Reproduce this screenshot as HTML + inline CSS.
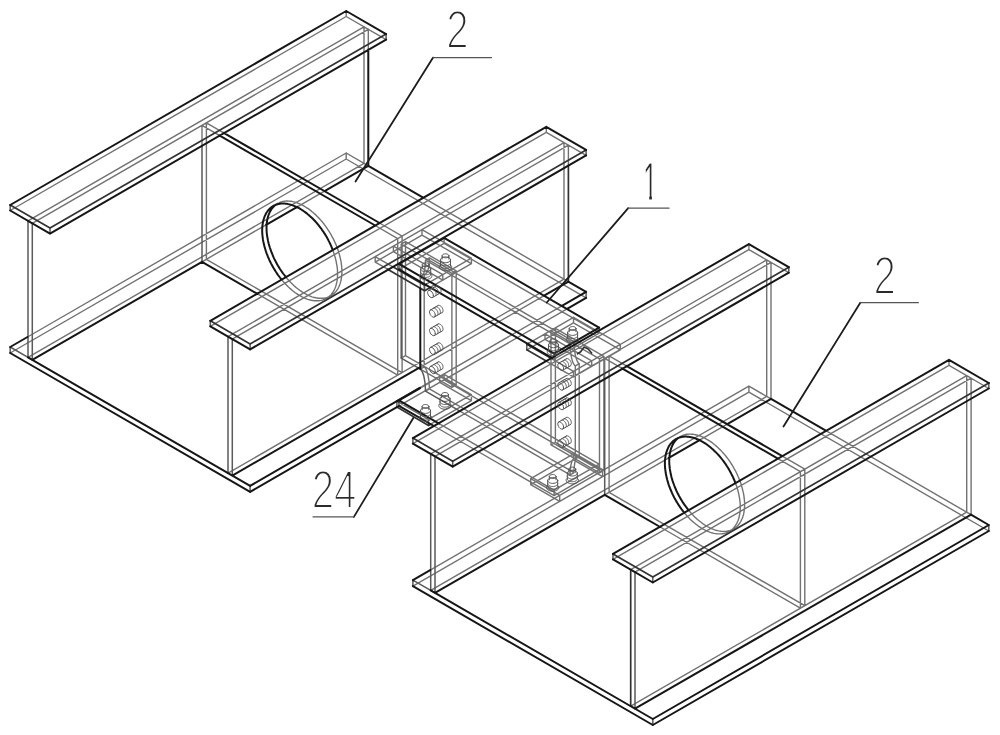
<!DOCTYPE html>
<html><head><meta charset="utf-8"><title>Figure</title>
<style>
html,body{margin:0;padding:0;background:#fff;}
body{width:1000px;height:735px;overflow:hidden;font-family:"Liberation Sans",sans-serif;}
svg{display:block}
.h{fill:none;stroke:#727272;stroke-width:1.4;stroke-linecap:round;stroke-linejoin:round}
.m{fill:none;stroke:#5a5a5a;stroke-width:1.5;stroke-linecap:round;stroke-linejoin:round}
.n{fill:none;stroke:#333;stroke-width:1.7;stroke-linecap:round;stroke-linejoin:round}
.v{fill:none;stroke:#161616;stroke-width:2;stroke-linecap:round;stroke-linejoin:round}
.b{fill:none;stroke:#555;stroke-width:1;stroke-linecap:round;stroke-linejoin:round}
.ld{fill:none;stroke:#1c1c1c;stroke-width:1.8;stroke-linecap:round}
.lh{fill:none;stroke:#555;stroke-width:1.3;stroke-linecap:round}
.lb{font-family:"Liberation Sans",sans-serif;font-size:54.5px;fill:#2a2a2a;stroke:#fff;stroke-width:2.2px}
.l1{stroke-width:0.9px}
</style></head><body>
<svg width="1000" height="735" viewBox="0 0 1000 735">
<rect width="1000" height="735" fill="#fff"/>
<path class="h" d="M10.2 353.0 L346.2 159.0 M27.5 337.0 L346.2 153.0 M397.3 406.9 L567.1 308.9 M419.8 387.9 L561.9 305.9 M346.2 159.0 L586.1 297.9 M346.2 153.0 L368.8 166.1 M422.7 197.3 L568.7 281.8 M346.2 159.0 L346.2 153.0 M10.2 210.5 L346.2 16.5 M346.2 16.5 L386.1 39.6 M346.2 16.5 L346.2 11.0 M28.0 357.3 L364.0 163.3 M28.0 220.8 L364.0 26.8 M202.0 261.8 L266.1 224.8 M297.3 206.8 L325.0 190.8 M32.3 223.3 L368.3 29.3 M364.0 163.3 L368.3 165.8 M364.0 26.8 L368.3 29.3 M364.0 163.3 L364.0 26.8 M368.3 49.4 L368.3 29.3 M210.3 326.3 L546.3 132.3 M546.3 132.3 L586.1 155.4 M546.3 132.3 L546.3 126.8 M228.0 473.1 L564.0 279.1 M228.0 336.6 L564.0 142.6 M419.4 367.6 L544.1 295.6 M232.3 339.1 L568.4 145.1 M564.0 279.1 L568.4 281.6 M564.0 142.6 L568.4 145.1 M564.0 279.1 L564.0 142.6 M568.4 165.2 L568.4 145.1 M202.0 261.8 L206.4 259.3 M202.0 125.3 L206.4 122.8 M397.7 375.1 L402.1 372.6 M397.7 238.6 L402.1 236.1 M257.5 293.9 L397.7 375.1 M202.0 125.3 L219.3 135.3 M375.2 225.5 L397.7 238.6 M206.4 259.3 L402.1 372.6 M206.4 122.8 L223.7 132.8 M379.6 223.0 L402.1 236.1 M202.0 145.4 L202.0 125.3 M397.7 375.1 L397.7 238.6 M206.4 259.3 L206.4 122.8 M402.1 372.6 L402.1 236.1 M337.6 274.0 L337.5 272.5 L337.5 270.9 L337.4 269.3 L337.2 267.7 L337.0 266.1 L336.7 264.5 L336.4 262.8 L336.1 261.2 L335.7 259.5 L335.3 257.8 L334.8 256.1 L334.3 254.4 L333.7 252.7 L333.1 251.0 L332.5 249.3 M281.0 278.9 L282.2 280.4 L283.4 281.7 L284.6 283.0 L285.8 284.3 L287.0 285.6 L288.2 286.8 L289.5 288.0 L290.8 289.1 L292.1 290.2 L293.3 291.2 L294.6 292.2 L295.9 293.2 L297.3 294.1 L298.6 294.9 L299.9 295.7 L301.2 296.4 L302.5 297.1 L303.8 297.7 L305.1 298.3 L306.4 298.8 L307.7 299.3 L309.0 299.7 L310.3 300.0 L311.5 300.3 L312.8 300.5 L314.0 300.7 L315.2 300.8 L316.4 300.8 L317.6 300.8 L318.7 300.8 L319.8 300.6 L321.0 300.4 L322.0 300.2 L323.1 299.9 L324.1 299.5 L325.1 299.1 L326.1 298.6 L327.0 298.1 L327.9 297.5 L328.7 296.8 L329.6 296.1 L330.4 295.4 L331.1 294.6 L331.8 293.7 L332.5 292.8 L333.1 291.9 L333.7 290.8 L334.3 289.8 L334.8 288.7 L335.3 287.5 L335.7 286.4 L336.1 285.1 L336.4 283.9 L336.7 282.6 L337.0 281.2 L337.2 279.8 L337.4 278.4 L337.5 277.0 L337.5 275.5 L337.6 274.0 M341.9 271.5 L341.9 270.0 L341.8 268.4 L341.7 266.8 L341.5 265.2 L341.3 263.6 L341.1 262.0 L340.8 260.3 L340.4 258.7 L340.0 257.0 L339.6 255.3 L339.1 253.6 L338.6 251.9 L338.1 250.2 L337.5 248.5 L336.8 246.8 L336.2 245.1 L335.4 243.4 L334.7 241.8 L333.9 240.1 L333.1 238.4 L332.2 236.8 L331.3 235.1 L330.4 233.5 L329.4 231.9 L328.4 230.4 L327.4 228.8 L326.4 227.3 L325.3 225.8 L324.2 224.3 L323.1 222.9 L321.9 221.5 L320.7 220.1 L319.5 218.8 L318.3 217.5 L317.1 216.3 L315.9 215.0 L314.6 213.9 L313.3 212.7 L312.0 211.7 L310.8 210.6 L309.5 209.6 L308.2 208.7 L306.8 207.8 L305.5 207.0 L304.2 206.2 L302.9 205.4 L301.6 204.8 L300.3 204.1 L299.0 203.6 L297.7 203.1 L296.4 202.6 L295.1 202.2 L293.8 201.9 L292.6 201.6 L291.3 201.3 L290.1 201.2 L288.9 201.1 L287.7 201.0 L286.5 201.0 L285.4 201.1 L284.3 201.2 L283.1 201.4 L282.1 201.7 L281.0 202.0 L280.0 202.3 L279.0 202.8 L278.0 203.2 L277.1 203.8 L276.2 204.4 L275.4 205.0 M285.4 276.4 L286.5 277.9 L287.7 279.2 L288.9 280.5 L290.1 281.8 L291.3 283.1 L292.6 284.3 L293.8 285.5 L295.1 286.6 L296.4 287.7 L297.7 288.7 L299.0 289.7 L300.3 290.7 L301.6 291.6 L302.9 292.4 L304.2 293.2 L305.5 293.9 L306.8 294.6 L308.2 295.2 L309.5 295.8 L310.8 296.3 L312.0 296.8 L313.3 297.2 L314.6 297.5 L315.9 297.8 L317.1 298.0 L318.3 298.2 L319.5 298.3 L320.7 298.3 L321.9 298.3 L323.1 298.3 L324.2 298.1 L325.3 297.9 L326.4 297.7 L327.4 297.4 L328.4 297.0 L329.4 296.6 L330.4 296.1 L331.3 295.6 L332.2 295.0 L333.1 294.3 L333.9 293.6 L334.7 292.9 L335.4 292.1 L336.2 291.2 L336.8 290.3 L337.5 289.4 L338.1 288.3 L338.6 287.3 L339.1 286.2 L339.6 285.0 L340.0 283.9 L340.4 282.6 L340.8 281.4 L341.1 280.1 L341.3 278.7 L341.5 277.3 L341.7 275.9 L341.8 274.5 L341.9 273.0 L341.9 271.5 M412.9 586.1 L748.9 392.1 M430.2 570.1 L748.9 386.1 M748.9 392.1 L988.8 531.0 M748.9 386.1 L771.5 399.2 M825.4 430.4 L971.4 514.9 M748.9 392.1 L748.9 386.1 M412.9 443.6 L748.9 249.6 M748.9 249.6 L788.8 272.7 M748.9 249.6 L748.9 244.1 M430.7 590.4 L766.7 396.4 M430.7 453.9 L766.7 259.9 M604.7 494.9 L668.8 457.9 M700.0 439.9 L727.7 423.9 M435.0 456.4 L771.0 262.4 M766.7 396.4 L771.0 398.9 M766.7 259.9 L771.0 262.4 M766.7 396.4 L766.7 259.9 M771.0 398.9 L771.0 282.5 M771.0 282.5 L771.0 262.4 M613.0 559.4 L949.0 365.4 M949.0 365.4 L988.8 388.5 M949.0 365.4 L949.0 359.9 M630.7 706.2 L966.7 512.2 M630.7 569.7 L966.7 375.7 M635.0 572.2 L971.1 378.2 M966.7 512.2 L971.1 514.7 M966.7 375.7 L971.1 378.2 M966.7 512.2 L966.7 375.7 M971.1 514.7 L971.1 398.3 M971.1 398.3 L971.1 378.2 M604.7 494.9 L609.1 492.4 M604.7 358.4 L609.1 355.9 M800.4 608.2 L804.8 605.7 M800.4 471.7 L804.8 469.2 M660.2 527.0 L800.4 608.2 M604.7 358.4 L622.0 368.4 M777.9 458.6 L800.4 471.7 M609.1 492.4 L804.8 605.7 M609.1 355.9 L626.4 365.9 M782.3 456.1 L804.8 469.2 M604.7 378.5 L604.7 358.4 M800.4 608.2 L800.4 471.7 M609.1 492.4 L609.1 355.9 M804.8 605.7 L804.8 469.2 M740.3 507.1 L740.2 505.6 L740.2 504.0 L740.1 502.4 L739.9 500.8 L739.7 499.2 L739.4 497.6 L739.1 495.9 L738.8 494.3 L738.4 492.6 L738.0 490.9 L737.5 489.2 L737.0 487.5 L736.4 485.8 L735.8 484.1 L735.2 482.4 M683.8 512.1 L684.9 513.5 L686.1 514.8 L687.3 516.2 L688.5 517.4 L689.7 518.7 L690.9 519.9 L692.2 521.1 L693.5 522.2 L694.8 523.3 L696.0 524.3 L697.3 525.3 L698.6 526.3 L700.0 527.2 L701.3 528.0 L702.6 528.8 L703.9 529.5 L705.2 530.2 L706.5 530.8 L707.8 531.4 L709.1 531.9 L710.4 532.4 L711.7 532.8 L713.0 533.1 L714.2 533.4 L715.5 533.6 L716.7 533.8 L717.9 533.9 L719.1 533.9 L720.3 533.9 L721.4 533.9 L722.6 533.7 L723.7 533.5 L724.7 533.3 L725.8 533.0 L726.8 532.6 L727.8 532.2 L728.8 531.7 L729.7 531.2 L730.6 530.6 L731.4 530.0 L732.3 529.2 L733.1 528.5 L733.8 527.7 L734.5 526.8 L735.2 525.9 L735.8 525.0 L736.4 524.0 L737.0 522.9 L737.5 521.8 L738.0 520.7 L738.4 519.5 L738.8 518.2 L739.1 517.0 L739.4 515.7 L739.7 514.3 L739.9 512.9 L740.1 511.5 L740.2 510.1 L740.2 508.6 L740.3 507.1 M744.6 504.6 L744.6 503.1 L744.5 501.5 L744.4 499.9 L744.2 498.3 L744.0 496.7 L743.8 495.1 L743.5 493.4 L743.1 491.8 L742.7 490.1 L742.3 488.4 L741.8 486.7 L741.3 485.0 L740.8 483.3 L740.2 481.6 L739.5 479.9 L738.9 478.2 L738.1 476.5 L737.4 474.9 L736.6 473.2 L735.8 471.5 L734.9 469.9 L734.0 468.3 L733.1 466.6 L732.1 465.0 L731.1 463.5 L730.1 461.9 L729.1 460.4 L728.0 458.9 L726.9 457.5 L725.8 456.0 L724.6 454.6 L723.4 453.2 L722.2 451.9 L721.0 450.6 L719.8 449.4 L718.6 448.2 L717.3 447.0 L716.0 445.9 L714.7 444.8 L713.5 443.7 L712.2 442.7 L710.9 441.8 L709.5 440.9 L708.2 440.1 L706.9 439.3 L705.6 438.6 L704.3 437.9 L703.0 437.2 L701.7 436.7 L700.4 436.2 L699.1 435.7 L697.8 435.3 L696.5 435.0 L695.3 434.7 L694.0 434.4 L692.8 434.3 L691.6 434.2 L690.4 434.1 L689.2 434.1 L688.1 434.2 L687.0 434.3 L685.9 434.5 L684.8 434.8 L683.7 435.1 L682.7 435.4 L681.7 435.9 L680.7 436.3 L679.8 436.9 L678.9 437.5 L678.1 438.1 M688.1 509.6 L689.2 511.0 L690.4 512.3 L691.6 513.7 L692.8 514.9 L694.0 516.2 L695.3 517.4 L696.5 518.6 L697.8 519.7 L699.1 520.8 L700.4 521.8 L701.7 522.8 L703.0 523.8 L704.3 524.7 L705.6 525.5 L706.9 526.3 L708.2 527.0 L709.5 527.7 L710.9 528.3 L712.2 528.9 L713.5 529.4 L714.7 529.9 L716.0 530.3 L717.3 530.6 L718.6 530.9 L719.8 531.1 L721.0 531.3 L722.2 531.4 L723.4 531.4 L724.6 531.4 L725.8 531.4 L726.9 531.2 L728.0 531.0 L729.1 530.8 L730.1 530.5 L731.1 530.1 L732.1 529.7 L733.1 529.2 L734.0 528.7 L734.9 528.1 L735.8 527.5 L736.6 526.7 L737.4 526.0 L738.1 525.2 L738.9 524.3 L739.5 523.4 L740.2 522.5 L740.8 521.5 L741.3 520.4 L741.8 519.3 L742.3 518.2 L742.7 517.0 L743.1 515.7 L743.5 514.5 L743.8 513.2 L744.0 511.8 L744.2 510.4 L744.4 509.0 L744.5 507.6 L744.6 506.1 L744.6 504.6 M399.0 269.4 L444.1 243.4 M554.1 359.1 L599.1 333.1 M552.3 358.1 L554.1 359.1 M444.1 243.4 L599.1 333.1 M554.1 359.1 L554.1 356.4 M444.1 243.4 L444.1 237.9 M599.1 333.1 L599.1 330.4 M399.0 405.9 L444.1 379.9 M419.8 388.4 L444.1 374.4 M554.1 495.6 L599.1 469.6 M554.1 490.1 L599.1 464.1 M433.9 426.0 L554.1 495.6 M439.1 423.6 L554.1 490.1 M444.1 379.9 L599.1 469.6 M444.1 374.4 L599.1 464.1 M554.1 495.6 L554.1 490.1 M444.1 379.9 L444.1 374.4 M599.1 469.6 L599.1 464.1 M425.5 260.1 L570.1 343.8 M460.3 411.3 L570.1 474.8 M420.3 288.2 L420.3 276.1 M575.3 458.9 L575.3 365.9 M425.5 260.1 L425.4 262.8 L425.2 265.4 L425.0 267.7 L424.6 269.9 L424.2 271.8 L423.7 273.4 L423.1 274.7 L422.4 275.7 L421.7 276.2 L421.0 276.4 L420.3 276.1 M570.1 343.8 L570.1 346.6 L570.3 349.3 L570.6 352.0 L570.9 354.6 L571.4 357.0 L571.9 359.2 L572.5 361.2 L573.1 362.9 L573.8 364.2 L574.5 365.2 L575.3 365.9 M570.1 474.8 L570.1 472.2 L570.3 469.6 L570.6 467.2 L570.9 465.0 L571.4 463.1 L571.9 461.5 L572.5 460.2 L573.1 459.3 L573.8 458.8 L574.5 458.6 L575.3 458.9 M429.4 257.9 L574.0 341.6 M429.4 388.9 L574.0 472.6 M424.2 366.9 L424.2 273.9 M579.2 456.6 L579.2 363.6 M429.4 257.9 L429.3 260.5 L429.1 263.1 L428.9 265.5 L428.5 267.7 L428.1 269.6 L427.6 271.2 L427.0 272.5 L426.3 273.4 L425.6 273.9 L424.9 274.1 L424.2 273.9 M429.4 388.9 L429.3 386.1 L429.1 383.4 L428.9 380.7 L428.5 378.1 L428.1 375.7 L427.6 373.5 L427.0 371.5 L426.3 369.8 L425.6 368.5 L424.9 367.5 L424.2 366.9 M574.0 341.6 L574.0 344.3 L574.2 347.1 L574.5 349.8 L574.8 352.3 L575.3 354.8 L575.8 357.0 L576.4 359.0 L577.0 360.6 L577.7 362.0 L578.4 363.0 L579.2 363.6 M574.0 472.6 L574.0 469.9 L574.2 467.4 L574.5 465.0 L574.8 462.8 L575.3 460.9 L575.8 459.3 L576.4 458.0 L577.0 457.1 L577.7 456.5 L578.4 456.4 L579.2 456.6 M425.5 260.1 L429.4 257.9 M420.3 276.1 L424.2 273.9 M425.5 391.1 L429.4 388.9 M420.3 369.1 L424.2 366.9 M570.1 343.8 L574.0 341.6 M575.3 365.9 L579.2 363.6 M570.1 474.8 L574.0 472.6 M575.3 458.9 L579.2 456.6 M401.2 358.1 L405.5 355.6 M401.2 244.1 L405.5 241.6 M451.9 387.4 L456.2 384.9 M451.9 273.4 L456.2 270.9 M420.4 369.2 L451.9 387.4 M401.2 244.1 L451.9 273.4 M405.5 355.6 L456.2 384.9 M405.5 241.6 L456.2 270.9 M401.2 276.1 L401.2 244.1 M451.9 387.4 L451.9 273.4 M405.5 355.6 L405.5 241.6 M456.2 384.9 L456.2 270.9 M551.0 444.8 L555.4 442.3 M551.0 330.8 L555.4 328.3 M599.5 472.9 L603.9 470.4 M599.5 358.9 L603.9 356.4 M551.0 444.8 L599.5 472.9 M551.0 330.8 L599.5 358.9 M555.4 442.3 L603.9 470.4 M555.4 328.3 L603.9 356.4 M551.0 444.8 L551.0 330.8 M599.5 472.9 L599.5 358.9 M555.4 442.3 L555.4 328.3 M603.9 470.4 L603.9 356.4 M396.9 407.1 L439.7 382.4 M420.1 387.7 L439.7 376.4 M430.3 424.4 L471.4 400.7 M428.5 419.4 L471.4 394.7 M398.6 402.1 L428.5 419.4 M439.7 382.4 L471.4 400.7 M439.7 376.4 L471.4 394.7 M428.5 423.4 L428.5 419.4 M439.7 382.4 L439.7 376.4 M471.4 400.7 L471.4 394.7 M530.7 484.6 L573.5 459.8 M530.7 478.6 L573.5 453.8 M559.7 501.4 L602.6 476.6 M559.7 495.4 L602.6 470.6 M530.7 484.6 L559.7 501.4 M530.7 478.6 L559.7 495.4 M573.5 459.8 L602.6 476.6 M573.5 453.8 L602.6 470.6 M530.7 484.6 L530.7 478.6 M559.7 501.4 L559.7 495.4 M573.5 459.8 L573.5 453.8 M602.6 476.6 L602.6 470.6 M375.2 262.1 L422.0 235.1 M375.2 256.6 L422.0 229.6 M429.8 287.7 L471.4 263.7 M426.3 284.2 L471.4 258.2 M375.2 262.1 L387.6 269.2 M375.2 256.6 L392.9 266.8 M422.0 235.1 L471.4 263.7 M422.0 229.6 L471.4 258.2 M375.2 262.1 L375.2 256.6 M422.0 235.1 L422.0 229.6 M471.4 263.7 L471.4 258.2 M526.8 349.8 L573.5 322.8 M528.5 343.3 L573.5 317.3 M573.5 376.9 L620.3 349.9 M573.5 371.4 L620.3 344.4 M545.8 360.8 L573.5 376.9 M551.0 358.3 L573.5 371.4 M573.5 322.8 L620.3 349.9 M573.5 317.3 L620.3 344.4 M573.5 376.9 L573.5 371.4 M573.5 322.8 L573.5 317.3 M620.3 349.9 L620.3 344.4 M393.4 251.6 L422.0 235.1 M393.4 246.1 L422.0 229.6 M442.8 280.2 L471.4 263.7 M442.8 274.7 L471.4 258.2 M393.4 251.6 L442.8 280.2 M393.4 246.1 L442.8 274.7 M393.4 251.6 L393.4 246.1 M442.8 280.2 L442.8 274.7 M545.0 339.3 L573.5 322.8 M545.0 333.8 L573.5 317.3 M591.7 366.4 L620.3 349.9 M591.7 360.9 L620.3 344.4 M545.0 339.3 L591.7 366.4 M545.0 333.8 L591.7 360.9 M545.0 339.3 L545.0 333.8 M591.7 366.4 L591.7 360.9"/>
<path class="m" d="M10.2 347.0 L32.3 359.8 M10.2 353.0 L10.2 347.0 M250.1 491.9 L250.1 485.9 M586.1 297.9 L586.1 291.9 M10.2 210.5 L10.2 205.0 M50.0 233.6 L50.0 228.1 M386.1 39.6 L386.1 34.1 M28.0 357.3 L28.0 220.8 M32.3 359.8 L32.3 223.3 M210.3 326.3 L210.3 320.8 M250.1 349.4 L250.1 343.9 M586.1 155.4 L586.1 149.9 M228.0 473.1 L228.0 336.6 M232.3 475.6 L232.3 339.1 M202.0 261.8 L202.0 145.4 M412.9 580.1 L435.0 592.9 M412.9 586.1 L412.9 580.1 M652.8 725.0 L652.8 719.0 M988.8 531.0 L988.8 525.0 M412.9 443.6 L412.9 438.1 M452.7 466.7 L452.7 461.2 M788.8 272.7 L788.8 267.2 M430.7 590.4 L430.7 453.9 M435.0 592.9 L435.0 456.4 M613.0 559.4 L613.0 553.9 M652.8 582.5 L652.8 577.0 M988.8 388.5 L988.8 383.0 M635.0 708.7 L635.0 572.2 M604.7 494.9 L604.7 378.5 M399.0 269.4 L399.0 263.9 M554.1 356.4 L554.1 353.6 M599.1 330.4 L599.1 327.6 M399.0 405.9 L399.0 400.4 M425.5 391.1 L460.3 411.3 M425.5 391.1 L425.4 388.4 L425.2 385.7 L425.0 383.0 L424.6 380.4 L424.2 377.9 L423.7 375.7 L423.1 373.8 L422.4 372.1 L421.7 370.7 L421.0 369.7 L420.3 369.1 M401.2 358.1 L420.4 369.2 M401.2 358.1 L401.2 276.1 M396.9 407.1 L396.9 401.1 M428.5 425.4 L428.5 423.4 M424.6 290.7 L424.6 285.2 M526.8 349.8 L526.8 344.3"/>
<path class="n" d="M50.0 228.1 L386.1 34.1 M10.2 205.0 L50.0 228.1 M250.1 343.9 L586.1 149.9 M210.3 320.8 L250.1 343.9 M568.4 281.6 L568.4 165.2 M452.7 461.2 L788.8 267.2 M412.9 438.1 L452.7 461.2 M652.8 577.0 L988.8 383.0 M613.0 553.9 L652.8 577.0 M630.7 706.2 L630.7 569.7 M396.9 401.1 L420.1 387.7 M428.5 425.4 L430.3 424.4 M396.9 407.1 L428.5 425.4 M396.9 401.1 L398.6 402.1 M424.6 290.7 L429.8 287.7 M424.6 285.2 L426.3 284.2 M387.6 269.2 L424.6 290.7 M392.9 266.8 L424.6 285.2 M526.8 344.3 L528.5 343.3 M526.8 349.8 L545.8 360.8 M526.8 344.3 L551.0 358.3"/>
<path class="v" d="M10.2 347.0 L27.5 337.0 M250.1 491.9 L397.3 406.9 M567.1 308.9 L586.1 297.9 M250.1 485.9 L419.8 387.9 M561.9 305.9 L586.1 291.9 M10.2 353.0 L250.1 491.9 M32.3 359.8 L250.1 485.9 M368.8 166.1 L422.7 197.3 M568.7 281.8 L586.1 291.9 M10.2 205.0 L346.2 11.0 M50.0 233.6 L386.1 39.6 M10.2 210.5 L50.0 233.6 M346.2 11.0 L386.1 34.1 M32.3 359.8 L202.0 261.8 M266.1 224.8 L297.3 206.8 M325.0 190.8 L368.3 165.8 M28.0 357.3 L32.3 359.8 M28.0 220.8 L32.3 223.3 M368.3 165.8 L368.3 49.4 M210.3 320.8 L546.3 126.8 M250.1 349.4 L586.1 155.4 M210.3 326.3 L250.1 349.4 M546.3 126.8 L586.1 149.9 M232.3 475.6 L419.4 367.6 M544.1 295.6 L568.4 281.6 M228.0 473.1 L232.3 475.6 M228.0 336.6 L232.3 339.1 M202.0 261.8 L257.5 293.9 M219.3 135.3 L375.2 225.5 M223.7 132.8 L379.6 223.0 M332.5 249.3 L331.8 247.6 L331.1 245.9 L330.4 244.3 L329.6 242.6 L328.7 240.9 L327.9 239.3 L327.0 237.6 L326.1 236.0 L325.1 234.4 L324.1 232.9 L323.1 231.3 L322.0 229.8 L321.0 228.3 L319.8 226.8 L318.7 225.4 L317.6 224.0 L316.4 222.6 L315.2 221.3 L314.0 220.0 L312.8 218.8 L311.5 217.5 L310.3 216.4 L309.0 215.2 L307.7 214.2 L306.4 213.1 L305.1 212.1 L303.8 211.2 L302.5 210.3 L301.2 209.5 L299.9 208.7 L298.6 207.9 L297.3 207.3 L295.9 206.6 L294.6 206.1 L293.3 205.6 L292.1 205.1 L290.8 204.7 L289.5 204.4 L288.2 204.1 L287.0 203.8 L285.8 203.7 L284.6 203.6 L283.4 203.5 L282.2 203.5 L281.0 203.6 L279.9 203.7 L278.8 203.9 L277.7 204.2 L276.7 204.5 L275.7 204.8 L274.7 205.3 L273.7 205.7 L272.8 206.3 L271.9 206.9 L271.0 207.5 L270.2 208.2 L269.4 209.0 L268.7 209.8 L267.9 210.6 L267.3 211.5 L266.6 212.5 L266.0 213.5 L265.5 214.6 L265.0 215.7 L264.5 216.8 L264.1 218.0 L263.7 219.2 L263.3 220.5 L263.0 221.8 L262.8 223.2 L262.6 224.5 L262.4 225.9 L262.3 227.4 L262.2 228.9 L262.2 230.4 L262.2 231.9 L262.3 233.5 L262.4 235.0 L262.6 236.6 L262.8 238.3 L263.0 239.9 L263.3 241.5 L263.7 243.2 L264.1 244.9 L264.5 246.6 L265.0 248.3 L265.5 250.0 L266.0 251.6 L266.6 253.3 L267.3 255.0 L267.9 256.7 L268.7 258.4 L269.4 260.1 L270.2 261.8 L271.0 263.4 L271.9 265.1 L272.8 266.7 L273.7 268.3 L274.7 269.9 L275.7 271.5 L276.7 273.0 L277.7 274.6 L278.8 276.0 L279.9 277.5 L281.0 278.9 M275.4 205.0 L274.5 205.7 L273.7 206.5 L273.0 207.3 L272.3 208.1 L271.6 209.0 L271.0 210.0 L270.4 211.0 L269.8 212.1 L269.3 213.2 L268.8 214.3 L268.4 215.5 L268.0 216.7 L267.7 218.0 L267.4 219.3 L267.1 220.7 L266.9 222.0 L266.7 223.4 L266.6 224.9 L266.6 226.4 L266.5 227.9 L266.6 229.4 L266.6 231.0 L266.7 232.5 L266.9 234.1 L267.1 235.8 L267.4 237.4 L267.7 239.0 L268.0 240.7 L268.4 242.4 L268.8 244.1 L269.3 245.8 L269.8 247.5 L270.4 249.1 L271.0 250.8 L271.6 252.5 L272.3 254.2 L273.0 255.9 L273.7 257.6 L274.5 259.3 L275.4 260.9 L276.2 262.6 L277.1 264.2 L278.0 265.8 L279.0 267.4 L280.0 269.0 L281.0 270.5 L282.1 272.1 L283.1 273.5 L284.3 275.0 L285.4 276.4 M412.9 580.1 L430.2 570.1 M652.8 725.0 L988.8 531.0 M652.8 719.0 L988.8 525.0 M412.9 586.1 L652.8 725.0 M435.0 592.9 L652.8 719.0 M771.5 399.2 L825.4 430.4 M971.4 514.9 L988.8 525.0 M412.9 438.1 L748.9 244.1 M452.7 466.7 L788.8 272.7 M412.9 443.6 L452.7 466.7 M748.9 244.1 L788.8 267.2 M435.0 592.9 L604.7 494.9 M668.8 457.9 L700.0 439.9 M727.7 423.9 L771.0 398.9 M430.7 590.4 L435.0 592.9 M430.7 453.9 L435.0 456.4 M613.0 553.9 L949.0 359.9 M652.8 582.5 L988.8 388.5 M613.0 559.4 L652.8 582.5 M949.0 359.9 L988.8 383.0 M635.0 708.7 L971.1 514.7 M630.7 706.2 L635.0 708.7 M630.7 569.7 L635.0 572.2 M604.7 494.9 L660.2 527.0 M622.0 368.4 L777.9 458.6 M626.4 365.9 L782.3 456.1 M735.2 482.4 L734.5 480.7 L733.8 479.0 L733.1 477.4 L732.3 475.7 L731.4 474.0 L730.6 472.4 L729.7 470.8 L728.8 469.1 L727.8 467.5 L726.8 466.0 L725.8 464.4 L724.7 462.9 L723.7 461.4 L722.6 460.0 L721.4 458.5 L720.3 457.1 L719.1 455.7 L717.9 454.4 L716.7 453.1 L715.5 451.9 L714.2 450.7 L713.0 449.5 L711.7 448.4 L710.4 447.3 L709.1 446.2 L707.8 445.2 L706.5 444.3 L705.2 443.4 L703.9 442.6 L702.6 441.8 L701.3 441.1 L700.0 440.4 L698.6 439.7 L697.3 439.2 L696.0 438.7 L694.8 438.2 L693.5 437.8 L692.2 437.5 L690.9 437.2 L689.7 436.9 L688.5 436.8 L687.3 436.7 L686.1 436.6 L684.9 436.6 L683.8 436.7 L682.6 436.8 L681.5 437.0 L680.4 437.3 L679.4 437.6 L678.4 437.9 L677.4 438.4 L676.4 438.8 L675.5 439.4 L674.6 440.0 L673.7 440.6 L672.9 441.3 L672.1 442.1 L671.4 442.9 L670.6 443.7 L670.0 444.6 L669.3 445.6 L668.7 446.6 L668.2 447.7 L667.7 448.8 L667.2 449.9 L666.8 451.1 L666.4 452.3 L666.0 453.6 L665.7 454.9 L665.5 456.3 L665.3 457.6 L665.1 459.1 L665.0 460.5 L664.9 462.0 L664.9 463.5 L664.9 465.0 L665.0 466.6 L665.1 468.1 L665.3 469.7 L665.5 471.4 L665.7 473.0 L666.0 474.6 L666.4 476.3 L666.8 478.0 L667.2 479.7 L667.7 481.4 L668.2 483.1 L668.7 484.8 L669.3 486.5 L670.0 488.1 L670.6 489.8 L671.4 491.5 L672.1 493.2 L672.9 494.9 L673.7 496.5 L674.6 498.2 L675.5 499.8 L676.4 501.4 L677.4 503.0 L678.4 504.6 L679.4 506.1 L680.4 507.7 L681.5 509.2 L682.6 510.6 L683.8 512.1 M678.1 438.1 L677.2 438.8 L676.4 439.6 L675.7 440.4 L675.0 441.2 L674.3 442.1 L673.7 443.1 L673.1 444.1 L672.5 445.2 L672.0 446.3 L671.5 447.4 L671.1 448.6 L670.7 449.8 L670.4 451.1 L670.1 452.4 L669.8 453.8 L669.6 455.1 L669.5 456.6 L669.3 458.0 L669.3 459.5 L669.2 461.0 L669.3 462.5 L669.3 464.1 L669.5 465.6 L669.6 467.2 L669.8 468.9 L670.1 470.5 L670.4 472.1 L670.7 473.8 L671.1 475.5 L671.5 477.2 L672.0 478.9 L672.5 480.6 L673.1 482.3 L673.7 484.0 L674.3 485.6 L675.0 487.3 L675.7 489.0 L676.4 490.7 L677.2 492.4 L678.1 494.0 L678.9 495.7 L679.8 497.3 L680.7 498.9 L681.7 500.5 L682.7 502.1 L683.7 503.6 L684.8 505.2 L685.9 506.7 L687.0 508.1 L688.1 509.6 M399.0 263.9 L444.1 237.9 M554.1 353.6 L599.1 327.6 M399.0 269.4 L552.3 358.1 M399.0 263.9 L554.1 353.6 M444.1 237.9 L599.1 327.6 M399.0 400.4 L419.8 388.4 M399.0 405.9 L433.9 426.0 M399.0 400.4 L439.1 423.6 M420.3 369.1 L420.3 288.2"/>
<path class="b" d="M433.3 295.6 L433.2 294.4 L432.7 293.1 L431.9 292.0 L431.0 291.0 L430.0 290.5 L429.0 290.3 L428.3 290.6 L427.8 291.3 L427.6 292.4 L427.8 293.6 L428.3 294.9 L429.0 296.0 L430.0 297.0 L431.0 297.5 L431.9 297.7 L432.7 297.4 L433.2 296.7 L433.3 295.6 M435.3 295.9 L435.6 295.6 L435.9 295.3 L436.0 294.8 L436.1 294.3 L436.1 293.7 L436.0 293.1 L435.9 292.5 L435.6 291.8 L435.3 291.2 L434.9 290.6 L434.5 290.1 L434.0 289.6 L433.5 289.2 L433.0 288.9 L432.5 288.8 L432.1 288.7 L431.6 288.7 L431.3 288.9 M437.7 294.5 L438.0 294.2 L438.3 293.9 L438.4 293.4 L438.5 292.9 L438.5 292.4 L438.4 291.7 L438.3 291.1 L438.0 290.5 L437.7 289.8 L437.3 289.2 L436.9 288.7 L436.4 288.2 L435.9 287.9 L435.4 287.6 L434.9 287.4 L434.5 287.3 L434.0 287.4 L433.6 287.5 M440.3 293.0 L440.6 292.7 L440.9 292.4 L441.0 291.9 L441.1 291.4 L441.1 290.9 L441.0 290.2 L440.9 289.6 L440.6 289.0 L440.3 288.3 L439.9 287.7 L439.5 287.2 L439.0 286.7 L438.5 286.4 L438.0 286.1 L437.5 285.9 L437.1 285.8 L436.6 285.9 L436.2 286.0 M428.4 290.5 L436.2 286.0 M432.5 297.5 L440.3 293.0 M435.2 315.1 L435.1 313.9 L434.6 312.6 L433.8 311.5 L432.9 310.5 L431.9 310.0 L430.9 309.8 L430.2 310.1 L429.7 310.8 L429.5 311.9 L429.7 313.1 L430.2 314.4 L430.9 315.5 L431.9 316.5 L432.9 317.0 L433.8 317.2 L434.6 316.9 L435.1 316.2 L435.2 315.1 M437.2 315.4 L437.5 315.1 L437.8 314.8 L437.9 314.3 L438.0 313.8 L438.0 313.2 L437.9 312.6 L437.8 312.0 L437.5 311.3 L437.2 310.7 L436.8 310.1 L436.4 309.6 L435.9 309.1 L435.4 308.7 L434.9 308.4 L434.4 308.3 L434.0 308.2 L433.5 308.2 L433.2 308.4 M439.6 314.0 L439.9 313.7 L440.2 313.4 L440.3 312.9 L440.4 312.4 L440.4 311.9 L440.3 311.2 L440.2 310.6 L439.9 310.0 L439.6 309.3 L439.2 308.7 L438.8 308.2 L438.3 307.7 L437.8 307.4 L437.3 307.1 L436.8 306.9 L436.4 306.8 L435.9 306.9 L435.5 307.0 M442.2 312.5 L442.5 312.2 L442.8 311.9 L442.9 311.4 L443.0 310.9 L443.0 310.4 L442.9 309.7 L442.8 309.1 L442.5 308.5 L442.2 307.8 L441.8 307.2 L441.4 306.7 L440.9 306.2 L440.4 305.9 L439.9 305.6 L439.4 305.4 L439.0 305.3 L438.5 305.4 L438.1 305.5 M430.3 310.0 L438.1 305.5 M434.4 317.0 L442.2 312.5 M435.2 333.6 L435.1 332.4 L434.6 331.1 L433.8 330.0 L432.9 329.0 L431.9 328.5 L430.9 328.3 L430.2 328.6 L429.7 329.3 L429.5 330.4 L429.7 331.6 L430.2 332.9 L430.9 334.0 L431.9 335.0 L432.9 335.5 L433.8 335.7 L434.6 335.4 L435.1 334.7 L435.2 333.6 M437.2 333.9 L437.5 333.6 L437.8 333.3 L437.9 332.8 L438.0 332.3 L438.0 331.7 L437.9 331.1 L437.8 330.5 L437.5 329.8 L437.2 329.2 L436.8 328.6 L436.4 328.1 L435.9 327.6 L435.4 327.2 L434.9 326.9 L434.4 326.8 L434.0 326.7 L433.5 326.7 L433.2 326.9 M439.6 332.5 L439.9 332.2 L440.2 331.9 L440.3 331.4 L440.4 330.9 L440.4 330.4 L440.3 329.7 L440.2 329.1 L439.9 328.5 L439.6 327.8 L439.2 327.2 L438.8 326.7 L438.3 326.2 L437.8 325.9 L437.3 325.6 L436.8 325.4 L436.4 325.3 L435.9 325.4 L435.5 325.5 M442.2 331.0 L442.5 330.7 L442.8 330.4 L442.9 329.9 L443.0 329.4 L443.0 328.9 L442.9 328.2 L442.8 327.6 L442.5 327.0 L442.2 326.3 L441.8 325.7 L441.4 325.2 L440.9 324.7 L440.4 324.4 L439.9 324.1 L439.4 323.9 L439.0 323.8 L438.5 323.9 L438.1 324.0 M430.3 328.5 L438.1 324.0 M434.4 335.5 L442.2 331.0 M435.2 352.6 L435.1 351.4 L434.6 350.1 L433.8 349.0 L432.9 348.0 L431.9 347.5 L430.9 347.3 L430.2 347.6 L429.7 348.3 L429.5 349.4 L429.7 350.6 L430.2 351.9 L430.9 353.0 L431.9 354.0 L432.9 354.5 L433.8 354.7 L434.6 354.4 L435.1 353.7 L435.2 352.6 M437.2 352.9 L437.5 352.6 L437.8 352.3 L437.9 351.8 L438.0 351.3 L438.0 350.7 L437.9 350.1 L437.8 349.5 L437.5 348.8 L437.2 348.2 L436.8 347.6 L436.4 347.1 L435.9 346.6 L435.4 346.2 L434.9 345.9 L434.4 345.8 L434.0 345.7 L433.5 345.7 L433.2 345.9 M439.6 351.5 L439.9 351.2 L440.2 350.9 L440.3 350.4 L440.4 349.9 L440.4 349.4 L440.3 348.7 L440.2 348.1 L439.9 347.5 L439.6 346.8 L439.2 346.2 L438.8 345.7 L438.3 345.2 L437.8 344.9 L437.3 344.6 L436.8 344.4 L436.4 344.3 L435.9 344.4 L435.5 344.5 M442.2 350.0 L442.5 349.7 L442.8 349.4 L442.9 348.9 L443.0 348.4 L443.0 347.9 L442.9 347.2 L442.8 346.6 L442.5 346.0 L442.2 345.3 L441.8 344.7 L441.4 344.2 L440.9 343.7 L440.4 343.4 L439.9 343.1 L439.4 342.9 L439.0 342.8 L438.5 342.9 L438.1 343.0 M430.3 347.5 L438.1 343.0 M434.4 354.5 L442.2 350.0 M435.2 371.6 L435.1 370.4 L434.6 369.1 L433.8 368.0 L432.9 367.0 L431.9 366.5 L430.9 366.3 L430.2 366.6 L429.7 367.3 L429.5 368.4 L429.7 369.6 L430.2 370.9 L430.9 372.0 L431.9 373.0 L432.9 373.5 L433.8 373.7 L434.6 373.4 L435.1 372.7 L435.2 371.6 M437.2 371.9 L437.5 371.6 L437.8 371.3 L437.9 370.8 L438.0 370.3 L438.0 369.7 L437.9 369.1 L437.8 368.5 L437.5 367.8 L437.2 367.2 L436.8 366.6 L436.4 366.1 L435.9 365.6 L435.4 365.2 L434.9 364.9 L434.4 364.8 L434.0 364.7 L433.5 364.7 L433.2 364.9 M439.6 370.5 L439.9 370.2 L440.2 369.9 L440.3 369.4 L440.4 368.9 L440.4 368.4 L440.3 367.7 L440.2 367.1 L439.9 366.5 L439.6 365.8 L439.2 365.2 L438.8 364.7 L438.3 364.2 L437.8 363.9 L437.3 363.6 L436.8 363.4 L436.4 363.3 L435.9 363.4 L435.5 363.5 M442.2 369.0 L442.5 368.7 L442.8 368.4 L442.9 367.9 L443.0 367.4 L443.0 366.9 L442.9 366.2 L442.8 365.6 L442.5 365.0 L442.2 364.3 L441.8 363.7 L441.4 363.2 L440.9 362.7 L440.4 362.4 L439.9 362.1 L439.4 361.9 L439.0 361.8 L438.5 361.9 L438.1 362.0 M430.3 366.5 L438.1 362.0 M434.4 373.5 L442.2 369.0 M563.5 368.4 L563.4 367.2 L562.9 365.9 L562.1 364.8 L561.2 363.8 L560.2 363.3 L559.2 363.1 L558.5 363.4 L558.0 364.1 L557.8 365.2 L558.0 366.4 L558.5 367.7 L559.2 368.8 L560.2 369.8 L561.2 370.3 L562.1 370.5 L562.9 370.2 L563.4 369.5 L563.5 368.4 M565.5 368.7 L565.8 368.4 L566.1 368.1 L566.2 367.6 L566.3 367.1 L566.3 366.5 L566.2 365.9 L566.1 365.3 L565.8 364.6 L565.5 364.0 L565.1 363.4 L564.7 362.9 L564.2 362.4 L563.7 362.0 L563.2 361.7 L562.7 361.6 L562.3 361.5 L561.8 361.5 L561.5 361.7 M567.9 367.3 L568.2 367.0 L568.5 366.7 L568.6 366.2 L568.7 365.7 L568.7 365.2 L568.6 364.5 L568.5 363.9 L568.2 363.3 L567.9 362.6 L567.5 362.0 L567.1 361.5 L566.6 361.0 L566.1 360.7 L565.6 360.4 L565.1 360.2 L564.7 360.1 L564.2 360.2 L563.8 360.3 M570.5 365.8 L570.8 365.5 L571.1 365.2 L571.2 364.7 L571.3 364.2 L571.3 363.7 L571.2 363.0 L571.1 362.4 L570.8 361.8 L570.5 361.1 L570.1 360.5 L569.7 360.0 L569.2 359.5 L568.7 359.2 L568.2 358.9 L567.7 358.7 L567.3 358.6 L566.8 358.7 L566.4 358.8 M558.6 363.3 L566.4 358.8 M562.7 370.3 L570.5 365.8 M563.5 388.1 L563.4 386.9 L562.9 385.6 L562.1 384.5 L561.2 383.5 L560.2 383.0 L559.2 382.8 L558.5 383.1 L558.0 383.8 L557.8 384.9 L558.0 386.1 L558.5 387.4 L559.2 388.5 L560.2 389.5 L561.2 390.0 L562.1 390.2 L562.9 389.9 L563.4 389.2 L563.5 388.1 M565.5 388.4 L565.8 388.1 L566.1 387.8 L566.2 387.3 L566.3 386.8 L566.3 386.2 L566.2 385.6 L566.1 385.0 L565.8 384.3 L565.5 383.7 L565.1 383.1 L564.7 382.6 L564.2 382.1 L563.7 381.7 L563.2 381.4 L562.7 381.3 L562.3 381.2 L561.8 381.2 L561.5 381.4 M567.9 387.0 L568.2 386.7 L568.5 386.4 L568.6 385.9 L568.7 385.4 L568.7 384.9 L568.6 384.2 L568.5 383.6 L568.2 383.0 L567.9 382.3 L567.5 381.7 L567.1 381.2 L566.6 380.7 L566.1 380.4 L565.6 380.1 L565.1 379.9 L564.7 379.8 L564.2 379.9 L563.8 380.0 M570.5 385.5 L570.8 385.2 L571.1 384.9 L571.2 384.4 L571.3 383.9 L571.3 383.4 L571.2 382.7 L571.1 382.1 L570.8 381.5 L570.5 380.8 L570.1 380.2 L569.7 379.7 L569.2 379.2 L568.7 378.9 L568.2 378.6 L567.7 378.4 L567.3 378.3 L566.8 378.4 L566.4 378.5 M558.6 383.0 L566.4 378.5 M562.7 390.0 L570.5 385.5 M563.5 407.6 L563.4 406.4 L562.9 405.1 L562.1 404.0 L561.2 403.0 L560.2 402.5 L559.2 402.3 L558.5 402.6 L558.0 403.3 L557.8 404.4 L558.0 405.6 L558.5 406.9 L559.2 408.0 L560.2 409.0 L561.2 409.5 L562.1 409.7 L562.9 409.4 L563.4 408.7 L563.5 407.6 M565.5 407.9 L565.8 407.6 L566.1 407.3 L566.2 406.8 L566.3 406.3 L566.3 405.7 L566.2 405.1 L566.1 404.5 L565.8 403.8 L565.5 403.2 L565.1 402.6 L564.7 402.1 L564.2 401.6 L563.7 401.2 L563.2 400.9 L562.7 400.8 L562.3 400.7 L561.8 400.7 L561.5 400.9 M567.9 406.5 L568.2 406.2 L568.5 405.9 L568.6 405.4 L568.7 404.9 L568.7 404.4 L568.6 403.7 L568.5 403.1 L568.2 402.5 L567.9 401.8 L567.5 401.2 L567.1 400.7 L566.6 400.2 L566.1 399.9 L565.6 399.6 L565.1 399.4 L564.7 399.3 L564.2 399.4 L563.8 399.5 M570.5 405.0 L570.8 404.7 L571.1 404.4 L571.2 403.9 L571.3 403.4 L571.3 402.9 L571.2 402.2 L571.1 401.6 L570.8 401.0 L570.5 400.3 L570.1 399.7 L569.7 399.2 L569.2 398.7 L568.7 398.4 L568.2 398.1 L567.7 397.9 L567.3 397.8 L566.8 397.9 L566.4 398.0 M558.6 402.5 L566.4 398.0 M562.7 409.5 L570.5 405.0 M563.5 427.1 L563.4 425.9 L562.9 424.6 L562.1 423.5 L561.2 422.5 L560.2 422.0 L559.2 421.8 L558.5 422.1 L558.0 422.8 L557.8 423.9 L558.0 425.1 L558.5 426.4 L559.2 427.5 L560.2 428.5 L561.2 429.0 L562.1 429.2 L562.9 428.9 L563.4 428.2 L563.5 427.1 M565.5 427.4 L565.8 427.1 L566.1 426.8 L566.2 426.3 L566.3 425.8 L566.3 425.2 L566.2 424.6 L566.1 424.0 L565.8 423.3 L565.5 422.7 L565.1 422.1 L564.7 421.6 L564.2 421.1 L563.7 420.7 L563.2 420.4 L562.7 420.3 L562.3 420.2 L561.8 420.2 L561.5 420.4 M567.9 426.0 L568.2 425.7 L568.5 425.4 L568.6 424.9 L568.7 424.4 L568.7 423.9 L568.6 423.2 L568.5 422.6 L568.2 422.0 L567.9 421.3 L567.5 420.7 L567.1 420.2 L566.6 419.7 L566.1 419.4 L565.6 419.1 L565.1 418.9 L564.7 418.8 L564.2 418.9 L563.8 419.0 M570.5 424.5 L570.8 424.2 L571.1 423.9 L571.2 423.4 L571.3 422.9 L571.3 422.4 L571.2 421.7 L571.1 421.1 L570.8 420.5 L570.5 419.8 L570.1 419.2 L569.7 418.7 L569.2 418.2 L568.7 417.9 L568.2 417.6 L567.7 417.4 L567.3 417.3 L566.8 417.4 L566.4 417.5 M558.6 422.0 L566.4 417.5 M562.7 429.0 L570.5 424.5 M563.5 445.6 L563.4 444.4 L562.9 443.1 L562.1 442.0 L561.2 441.0 L560.2 440.5 L559.2 440.3 L558.5 440.6 L558.0 441.3 L557.8 442.4 L558.0 443.6 L558.5 444.9 L559.2 446.0 L560.2 447.0 L561.2 447.5 L562.1 447.7 L562.9 447.4 L563.4 446.7 L563.5 445.6 M565.5 445.9 L565.8 445.6 L566.1 445.3 L566.2 444.8 L566.3 444.3 L566.3 443.7 L566.2 443.1 L566.1 442.5 L565.8 441.8 L565.5 441.2 L565.1 440.6 L564.7 440.1 L564.2 439.6 L563.7 439.2 L563.2 438.9 L562.7 438.8 L562.3 438.7 L561.8 438.7 L561.5 438.9 M567.9 444.5 L568.2 444.2 L568.5 443.9 L568.6 443.4 L568.7 442.9 L568.7 442.4 L568.6 441.7 L568.5 441.1 L568.2 440.5 L567.9 439.8 L567.5 439.2 L567.1 438.7 L566.6 438.2 L566.1 437.9 L565.6 437.6 L565.1 437.4 L564.7 437.3 L564.2 437.4 L563.8 437.5 M570.5 443.0 L570.8 442.7 L571.1 442.4 L571.2 441.9 L571.3 441.4 L571.3 440.9 L571.2 440.2 L571.1 439.6 L570.8 439.0 L570.5 438.3 L570.1 437.7 L569.7 437.2 L569.2 436.7 L568.7 436.4 L568.2 436.1 L567.7 435.9 L567.3 435.8 L566.8 435.9 L566.4 436.0 M558.6 440.5 L566.4 436.0 M562.7 447.5 L570.5 443.0 M429.1 264.8 L429.0 265.3 L428.6 265.8 L428.1 266.2 L427.4 266.5 L426.6 266.7 L425.7 266.8 L424.8 266.7 L424.0 266.5 L423.3 266.2 L422.8 265.8 L422.4 265.3 L422.3 264.8 L422.4 264.3 L422.8 263.8 L423.3 263.4 L424.0 263.1 L424.8 262.9 L425.7 262.8 L426.6 262.9 L427.4 263.1 L428.1 263.4 L428.6 263.8 L429.0 264.3 L429.1 264.8 M422.3 264.8 L422.3 268.1 M429.1 264.8 L429.1 268.1 M430.7 268.8 L430.5 269.6 L430.0 270.2 L429.2 270.9 L428.2 271.3 L427.0 271.6 L425.7 271.7 L424.4 271.6 L423.2 271.3 L422.2 270.9 L421.4 270.2 L420.9 269.6 L420.7 268.8 L420.9 268.0 L421.4 267.4 L422.2 266.7 L423.2 266.3 L424.4 266.0 L425.7 265.9 L427.0 266.0 L428.2 266.3 L429.2 266.7 L430.0 267.4 L430.5 268.0 L430.7 268.8 M420.7 268.8 L420.7 274.5 M430.7 268.8 L430.7 274.5 M430.7 271.9 L430.7 272.3 L430.5 272.7 L430.3 273.0 L430.0 273.4 L429.7 273.7 L429.2 274.0 L428.7 274.2 L428.2 274.4 L427.6 274.6 L427.0 274.7 L426.4 274.8 L425.7 274.8 L425.0 274.8 L424.4 274.7 L423.8 274.6 L423.2 274.4 L422.7 274.2 L422.2 274.0 L421.7 273.7 L421.4 273.4 L421.1 273.0 L420.9 272.7 L420.7 272.3 L420.7 271.9 M430.7 274.5 L430.7 274.9 L430.5 275.3 L430.3 275.6 L430.0 275.9 L429.7 276.3 L429.2 276.6 L428.7 276.8 L428.2 277.0 L427.6 277.2 L427.0 277.3 L426.4 277.4 L425.7 277.4 L425.0 277.4 L424.4 277.3 L423.8 277.2 L423.2 277.0 L422.7 276.8 L422.2 276.6 L421.7 276.3 L421.4 275.9 L421.1 275.6 L420.9 275.3 L420.7 274.9 L420.7 274.5 M431.5 274.7 L431.8 275.2 L431.9 275.8 L431.8 276.4 L431.6 276.9 L431.3 277.5 L430.8 278.0 L430.1 278.4 L429.4 278.8 L428.6 279.1 L427.7 279.3 L426.7 279.5 L425.7 279.5 L424.7 279.5 L423.7 279.3 L422.8 279.1 L422.0 278.8 L421.3 278.4 L420.6 278.0 L420.1 277.5 L419.8 276.9 L419.6 276.4 L419.5 275.8 L419.6 275.2 L419.9 274.7 M448.9 255.8 L448.8 256.3 L448.4 256.8 L447.9 257.2 L447.2 257.5 L446.4 257.7 L445.5 257.8 L444.6 257.7 L443.8 257.5 L443.1 257.2 L442.6 256.8 L442.2 256.3 L442.1 255.8 L442.2 255.3 L442.6 254.8 L443.1 254.4 L443.8 254.1 L444.6 253.9 L445.5 253.8 L446.4 253.9 L447.2 254.1 L447.9 254.4 L448.4 254.8 L448.8 255.3 L448.9 255.8 M442.1 255.8 L442.1 259.1 M448.9 255.8 L448.9 259.1 M450.5 259.8 L450.3 260.6 L449.8 261.2 L449.0 261.9 L448.0 262.3 L446.8 262.6 L445.5 262.7 L444.2 262.6 L443.0 262.3 L442.0 261.9 L441.2 261.2 L440.7 260.6 L440.5 259.8 L440.7 259.0 L441.2 258.4 L442.0 257.7 L443.0 257.3 L444.2 257.0 L445.5 256.9 L446.8 257.0 L448.0 257.3 L449.0 257.7 L449.8 258.4 L450.3 259.0 L450.5 259.8 M440.5 259.8 L440.5 265.5 M450.5 259.8 L450.5 265.5 M450.5 262.9 L450.5 263.3 L450.3 263.7 L450.1 264.0 L449.8 264.4 L449.5 264.7 L449.0 265.0 L448.5 265.2 L448.0 265.4 L447.4 265.6 L446.8 265.7 L446.2 265.8 L445.5 265.8 L444.8 265.8 L444.2 265.7 L443.6 265.6 L443.0 265.4 L442.5 265.2 L442.0 265.0 L441.5 264.7 L441.2 264.4 L440.9 264.0 L440.7 263.7 L440.5 263.3 L440.5 262.9 M450.5 265.5 L450.5 265.9 L450.3 266.3 L450.1 266.6 L449.8 266.9 L449.5 267.3 L449.0 267.6 L448.5 267.8 L448.0 268.0 L447.4 268.2 L446.8 268.3 L446.2 268.4 L445.5 268.4 L444.8 268.4 L444.2 268.3 L443.6 268.2 L443.0 268.0 L442.5 267.8 L442.0 267.6 L441.5 267.3 L441.2 266.9 L440.9 266.6 L440.7 266.3 L440.5 265.9 L440.5 265.5 M451.3 265.7 L451.6 266.2 L451.7 266.8 L451.6 267.4 L451.4 267.9 L451.1 268.5 L450.6 269.0 L449.9 269.4 L449.2 269.8 L448.4 270.1 L447.5 270.3 L446.5 270.5 L445.5 270.5 L444.5 270.5 L443.5 270.3 L442.6 270.1 L441.8 269.8 L441.1 269.4 L440.4 269.0 L439.9 268.5 L439.6 267.9 L439.4 267.4 L439.3 266.8 L439.4 266.2 L439.7 265.7 M428.9 406.5 L428.8 407.0 L428.4 407.5 L427.9 407.9 L427.2 408.2 L426.4 408.4 L425.5 408.5 L424.6 408.4 L423.8 408.2 L423.1 407.9 L422.6 407.5 L422.2 407.0 L422.1 406.5 L422.2 406.0 L422.6 405.5 L423.1 405.1 L423.8 404.8 L424.6 404.6 L425.5 404.5 L426.4 404.6 L427.2 404.8 L427.9 405.1 L428.4 405.5 L428.8 406.0 L428.9 406.5 M422.1 406.5 L422.1 409.8 M428.9 406.5 L428.9 409.8 M430.5 410.5 L430.3 411.3 L429.8 411.9 L429.0 412.6 L428.0 413.0 L426.8 413.3 L425.5 413.4 L424.2 413.3 L423.0 413.0 L422.0 412.6 L421.2 411.9 L420.7 411.3 L420.5 410.5 L420.7 409.7 L421.2 409.1 L422.0 408.4 L423.0 408.0 L424.2 407.7 L425.5 407.6 L426.8 407.7 L428.0 408.0 L429.0 408.4 L429.8 409.1 L430.3 409.7 L430.5 410.5 M420.5 410.5 L420.5 416.2 M430.5 410.5 L430.5 416.2 M430.5 413.6 L430.5 414.0 L430.3 414.4 L430.1 414.7 L429.8 415.1 L429.5 415.4 L429.0 415.7 L428.5 415.9 L428.0 416.1 L427.4 416.3 L426.8 416.4 L426.2 416.5 L425.5 416.5 L424.8 416.5 L424.2 416.4 L423.6 416.3 L423.0 416.1 L422.5 415.9 L422.0 415.7 L421.5 415.4 L421.2 415.1 L420.9 414.7 L420.7 414.4 L420.5 414.0 L420.5 413.6 M430.5 416.2 L430.5 416.6 L430.3 417.0 L430.1 417.3 L429.8 417.6 L429.5 418.0 L429.0 418.3 L428.5 418.5 L428.0 418.7 L427.4 418.9 L426.8 419.0 L426.2 419.1 L425.5 419.1 L424.8 419.1 L424.2 419.0 L423.6 418.9 L423.0 418.7 L422.5 418.5 L422.0 418.3 L421.5 418.0 L421.2 417.6 L420.9 417.3 L420.7 417.0 L420.5 416.6 L420.5 416.2 M431.3 416.4 L431.6 416.9 L431.7 417.5 L431.6 418.1 L431.4 418.6 L431.1 419.2 L430.6 419.7 L429.9 420.1 L429.2 420.5 L428.4 420.8 L427.5 421.0 L426.5 421.2 L425.5 421.2 L424.5 421.2 L423.5 421.0 L422.6 420.8 L421.8 420.5 L421.1 420.1 L420.4 419.7 L419.9 419.2 L419.6 418.6 L419.4 418.1 L419.3 417.5 L419.4 416.9 L419.7 416.4 M448.4 394.5 L448.3 395.0 L447.9 395.5 L447.4 395.9 L446.7 396.2 L445.9 396.4 L445.0 396.5 L444.1 396.4 L443.3 396.2 L442.6 395.9 L442.1 395.5 L441.7 395.0 L441.6 394.5 L441.7 394.0 L442.1 393.5 L442.6 393.1 L443.3 392.8 L444.1 392.6 L445.0 392.5 L445.9 392.6 L446.7 392.8 L447.4 393.1 L447.9 393.5 L448.3 394.0 L448.4 394.5 M441.6 394.5 L441.6 397.8 M448.4 394.5 L448.4 397.8 M450.0 398.5 L449.8 399.3 L449.3 399.9 L448.5 400.6 L447.5 401.0 L446.3 401.3 L445.0 401.4 L443.7 401.3 L442.5 401.0 L441.5 400.6 L440.7 399.9 L440.2 399.3 L440.0 398.5 L440.2 397.7 L440.7 397.1 L441.5 396.4 L442.5 396.0 L443.7 395.7 L445.0 395.6 L446.3 395.7 L447.5 396.0 L448.5 396.4 L449.3 397.1 L449.8 397.7 L450.0 398.5 M440.0 398.5 L440.0 404.2 M450.0 398.5 L450.0 404.2 M450.0 401.6 L450.0 402.0 L449.8 402.4 L449.6 402.7 L449.3 403.1 L449.0 403.4 L448.5 403.7 L448.0 403.9 L447.5 404.1 L446.9 404.3 L446.3 404.4 L445.7 404.5 L445.0 404.5 L444.3 404.5 L443.7 404.4 L443.1 404.3 L442.5 404.1 L442.0 403.9 L441.5 403.7 L441.0 403.4 L440.7 403.1 L440.4 402.7 L440.2 402.4 L440.0 402.0 L440.0 401.6 M450.0 404.2 L450.0 404.6 L449.8 405.0 L449.6 405.3 L449.3 405.6 L449.0 406.0 L448.5 406.3 L448.0 406.5 L447.5 406.7 L446.9 406.9 L446.3 407.0 L445.7 407.1 L445.0 407.1 L444.3 407.1 L443.7 407.0 L443.1 406.9 L442.5 406.7 L442.0 406.5 L441.5 406.3 L441.0 406.0 L440.7 405.6 L440.4 405.3 L440.2 405.0 L440.0 404.6 L440.0 404.2 M450.8 404.4 L451.1 404.9 L451.2 405.5 L451.1 406.1 L450.9 406.6 L450.6 407.2 L450.1 407.7 L449.4 408.1 L448.7 408.5 L447.9 408.8 L447.0 409.0 L446.0 409.2 L445.0 409.2 L444.0 409.2 L443.0 409.0 L442.1 408.8 L441.3 408.5 L440.6 408.1 L439.9 407.7 L439.4 407.2 L439.1 406.6 L438.9 406.1 L438.8 405.5 L438.9 404.9 L439.2 404.4 M556.9 340.8 L556.8 341.3 L556.4 341.8 L555.9 342.2 L555.2 342.5 L554.4 342.7 L553.5 342.8 L552.6 342.7 L551.8 342.5 L551.1 342.2 L550.6 341.8 L550.2 341.3 L550.1 340.8 L550.2 340.3 L550.6 339.8 L551.1 339.4 L551.8 339.1 L552.6 338.9 L553.5 338.8 L554.4 338.9 L555.2 339.1 L555.9 339.4 L556.4 339.8 L556.8 340.3 L556.9 340.8 M550.1 340.8 L550.1 344.1 M556.9 340.8 L556.9 344.1 M558.5 344.8 L558.3 345.6 L557.8 346.2 L557.0 346.9 L556.0 347.3 L554.8 347.6 L553.5 347.7 L552.2 347.6 L551.0 347.3 L550.0 346.9 L549.2 346.2 L548.7 345.6 L548.5 344.8 L548.7 344.0 L549.2 343.4 L550.0 342.7 L551.0 342.3 L552.2 342.0 L553.5 341.9 L554.8 342.0 L556.0 342.3 L557.0 342.7 L557.8 343.4 L558.3 344.0 L558.5 344.8 M548.5 344.8 L548.5 350.5 M558.5 344.8 L558.5 350.5 M558.5 347.9 L558.5 348.3 L558.3 348.7 L558.1 349.0 L557.8 349.4 L557.5 349.7 L557.0 350.0 L556.5 350.2 L556.0 350.4 L555.4 350.6 L554.8 350.7 L554.2 350.8 L553.5 350.8 L552.8 350.8 L552.2 350.7 L551.6 350.6 L551.0 350.4 L550.5 350.2 L550.0 350.0 L549.5 349.7 L549.2 349.4 L548.9 349.0 L548.7 348.7 L548.5 348.3 L548.5 347.9 M558.5 350.5 L558.5 350.9 L558.3 351.3 L558.1 351.6 L557.8 351.9 L557.5 352.3 L557.0 352.6 L556.5 352.8 L556.0 353.0 L555.4 353.2 L554.8 353.3 L554.2 353.4 L553.5 353.4 L552.8 353.4 L552.2 353.3 L551.6 353.2 L551.0 353.0 L550.5 352.8 L550.0 352.6 L549.5 352.3 L549.2 351.9 L548.9 351.6 L548.7 351.3 L548.5 350.9 L548.5 350.5 M559.3 350.7 L559.6 351.2 L559.7 351.8 L559.6 352.4 L559.4 352.9 L559.1 353.5 L558.6 354.0 L557.9 354.4 L557.2 354.8 L556.4 355.1 L555.5 355.3 L554.5 355.5 L553.5 355.5 L552.5 355.5 L551.5 355.3 L550.6 355.1 L549.8 354.8 L549.1 354.4 L548.4 354.0 L547.9 353.5 L547.6 352.9 L547.4 352.4 L547.3 351.8 L547.4 351.2 L547.7 350.7 M576.0 328.5 L575.9 329.0 L575.5 329.5 L575.0 329.9 L574.3 330.2 L573.5 330.4 L572.6 330.5 L571.7 330.4 L570.9 330.2 L570.2 329.9 L569.7 329.5 L569.3 329.0 L569.2 328.5 L569.3 328.0 L569.7 327.5 L570.2 327.1 L570.9 326.8 L571.7 326.6 L572.6 326.5 L573.5 326.6 L574.3 326.8 L575.0 327.1 L575.5 327.5 L575.9 328.0 L576.0 328.5 M569.2 328.5 L569.2 331.8 M576.0 328.5 L576.0 331.8 M577.6 332.5 L577.4 333.3 L576.9 333.9 L576.1 334.6 L575.1 335.0 L573.9 335.3 L572.6 335.4 L571.3 335.3 L570.1 335.0 L569.1 334.6 L568.3 333.9 L567.8 333.3 L567.6 332.5 L567.8 331.7 L568.3 331.1 L569.1 330.4 L570.1 330.0 L571.3 329.7 L572.6 329.6 L573.9 329.7 L575.1 330.0 L576.1 330.4 L576.9 331.1 L577.4 331.7 L577.6 332.5 M567.6 332.5 L567.6 338.2 M577.6 332.5 L577.6 338.2 M577.6 335.6 L577.6 336.0 L577.4 336.4 L577.2 336.7 L576.9 337.1 L576.6 337.4 L576.1 337.7 L575.6 337.9 L575.1 338.1 L574.5 338.3 L573.9 338.4 L573.3 338.5 L572.6 338.5 L571.9 338.5 L571.3 338.4 L570.7 338.3 L570.1 338.1 L569.6 337.9 L569.1 337.7 L568.6 337.4 L568.3 337.1 L568.0 336.7 L567.8 336.4 L567.6 336.0 L567.6 335.6 M577.6 338.2 L577.6 338.6 L577.4 339.0 L577.2 339.3 L576.9 339.6 L576.6 340.0 L576.1 340.3 L575.6 340.5 L575.1 340.7 L574.5 340.9 L573.9 341.0 L573.3 341.1 L572.6 341.1 L571.9 341.1 L571.3 341.0 L570.7 340.9 L570.1 340.7 L569.6 340.5 L569.1 340.3 L568.6 340.0 L568.3 339.6 L568.0 339.3 L567.8 339.0 L567.6 338.6 L567.6 338.2 M578.4 338.4 L578.7 338.9 L578.8 339.5 L578.7 340.1 L578.5 340.6 L578.2 341.2 L577.7 341.7 L577.0 342.1 L576.3 342.5 L575.5 342.8 L574.6 343.0 L573.6 343.2 L572.6 343.2 L571.6 343.2 L570.6 343.0 L569.7 342.8 L568.9 342.5 L568.2 342.1 L567.5 341.7 L567.0 341.2 L566.7 340.6 L566.5 340.1 L566.4 339.5 L566.5 338.9 L566.8 338.4 M556.1 476.5 L556.0 477.0 L555.6 477.5 L555.1 477.9 L554.4 478.2 L553.6 478.4 L552.7 478.5 L551.8 478.4 L551.0 478.2 L550.3 477.9 L549.8 477.5 L549.4 477.0 L549.3 476.5 L549.4 476.0 L549.8 475.5 L550.3 475.1 L551.0 474.8 L551.8 474.6 L552.7 474.5 L553.6 474.6 L554.4 474.8 L555.1 475.1 L555.6 475.5 L556.0 476.0 L556.1 476.5 M549.3 476.5 L549.3 479.8 M556.1 476.5 L556.1 479.8 M557.7 480.5 L557.5 481.3 L557.0 481.9 L556.2 482.6 L555.2 483.0 L554.0 483.3 L552.7 483.4 L551.4 483.3 L550.2 483.0 L549.2 482.6 L548.4 481.9 L547.9 481.3 L547.7 480.5 L547.9 479.7 L548.4 479.1 L549.2 478.4 L550.2 478.0 L551.4 477.7 L552.7 477.6 L554.0 477.7 L555.2 478.0 L556.2 478.4 L557.0 479.1 L557.5 479.7 L557.7 480.5 M547.7 480.5 L547.7 486.2 M557.7 480.5 L557.7 486.2 M557.7 483.6 L557.7 484.0 L557.5 484.4 L557.3 484.7 L557.0 485.1 L556.7 485.4 L556.2 485.7 L555.7 485.9 L555.2 486.1 L554.6 486.3 L554.0 486.4 L553.4 486.5 L552.7 486.5 L552.0 486.5 L551.4 486.4 L550.8 486.3 L550.2 486.1 L549.7 485.9 L549.2 485.7 L548.7 485.4 L548.4 485.1 L548.1 484.7 L547.9 484.4 L547.7 484.0 L547.7 483.6 M557.7 486.2 L557.7 486.6 L557.5 487.0 L557.3 487.3 L557.0 487.6 L556.7 488.0 L556.2 488.3 L555.7 488.5 L555.2 488.7 L554.6 488.9 L554.0 489.0 L553.4 489.1 L552.7 489.1 L552.0 489.1 L551.4 489.0 L550.8 488.9 L550.2 488.7 L549.7 488.5 L549.2 488.3 L548.7 488.0 L548.4 487.6 L548.1 487.3 L547.9 487.0 L547.7 486.6 L547.7 486.2 M558.5 486.4 L558.8 486.9 L558.9 487.5 L558.8 488.1 L558.6 488.6 L558.3 489.2 L557.8 489.7 L557.1 490.1 L556.4 490.5 L555.6 490.8 L554.7 491.0 L553.7 491.2 L552.7 491.2 L551.7 491.2 L550.7 491.0 L549.8 490.8 L549.0 490.5 L548.3 490.1 L547.6 489.7 L547.1 489.2 L546.8 488.6 L546.6 488.1 L546.5 487.5 L546.6 486.9 L546.9 486.4 M575.7 469.1 L575.6 469.6 L575.2 470.1 L574.7 470.5 L574.0 470.8 L573.2 471.0 L572.3 471.1 L571.4 471.0 L570.6 470.8 L569.9 470.5 L569.4 470.1 L569.0 469.6 L568.9 469.1 L569.0 468.6 L569.4 468.1 L569.9 467.7 L570.6 467.4 L571.4 467.2 L572.3 467.1 L573.2 467.2 L574.0 467.4 L574.7 467.7 L575.2 468.1 L575.6 468.6 L575.7 469.1 M568.9 469.1 L568.9 472.4 M575.7 469.1 L575.7 472.4 M577.3 473.1 L577.1 473.9 L576.6 474.6 L575.8 475.2 L574.8 475.6 L573.6 475.9 L572.3 476.0 L571.0 475.9 L569.8 475.6 L568.8 475.2 L568.0 474.6 L567.5 473.9 L567.3 473.1 L567.5 472.3 L568.0 471.7 L568.8 471.0 L569.8 470.6 L571.0 470.3 L572.3 470.2 L573.6 470.3 L574.8 470.6 L575.8 471.0 L576.6 471.7 L577.1 472.3 L577.3 473.1 M567.3 473.1 L567.3 478.8 M577.3 473.1 L577.3 478.8 M577.3 476.2 L577.3 476.6 L577.1 477.0 L576.9 477.3 L576.6 477.7 L576.3 478.0 L575.8 478.3 L575.3 478.5 L574.8 478.7 L574.2 478.9 L573.6 479.0 L573.0 479.1 L572.3 479.1 L571.6 479.1 L571.0 479.0 L570.4 478.9 L569.8 478.7 L569.3 478.5 L568.8 478.3 L568.3 478.0 L568.0 477.7 L567.7 477.3 L567.5 477.0 L567.3 476.6 L567.3 476.2 M577.3 478.8 L577.3 479.2 L577.1 479.6 L576.9 479.9 L576.6 480.2 L576.3 480.6 L575.8 480.9 L575.3 481.1 L574.8 481.3 L574.2 481.5 L573.6 481.6 L573.0 481.7 L572.3 481.7 L571.6 481.7 L571.0 481.6 L570.4 481.5 L569.8 481.3 L569.3 481.1 L568.8 480.9 L568.3 480.6 L568.0 480.2 L567.7 479.9 L567.5 479.6 L567.3 479.2 L567.3 478.8 M578.1 479.0 L578.4 479.5 L578.5 480.1 L578.4 480.7 L578.2 481.2 L577.9 481.8 L577.4 482.3 L576.7 482.7 L576.0 483.1 L575.2 483.4 L574.3 483.6 L573.3 483.8 L572.3 483.8 L571.3 483.8 L570.3 483.6 L569.4 483.4 L568.6 483.1 L567.9 482.7 L567.2 482.3 L566.7 481.8 L566.4 481.2 L566.2 480.7 L566.1 480.1 L566.2 479.5 L566.5 479.0"/>
<filter id="gs" x="-10%" y="-10%" width="120%" height="120%"><feColorMatrix type="saturate" values="0"/></filter>
<g filter="url(#gs)">
<text class="lb" transform="translate(446.3,48.3) scale(0.737,1)">2</text>
<clipPath id="c1"><rect x="630" y="150" width="40" height="45.7"/><rect x="649.2" y="195.6" width="2.7" height="5"/></clipPath>
<g clip-path="url(#c1)"><text class="lb l1" transform="translate(643.2,200.1) scale(0.46,1)">1</text></g>
<text class="lb" transform="translate(873.6,293.5) scale(0.737,1)">2</text>
<text class="lb" transform="translate(311.7,507.7) scale(0.737,1)">24</text>
</g>
<g class="ld">
<path d="M433.1 57.6L355.5 181.5"/><path d="M628.2 208.2L546.8 302.5"/><path d="M860.3 302.7L783.5 426.5"/><path d="M353.9 516.9L413.3 418"/>
</g>
<g class="lh">
<path d="M433.1 57.6H491.5"/><path d="M628.2 208.2H669"/><path d="M860.3 302.7H918.3"/><path d="M313.1 516.9H353.9"/>
</g>
<path class="n zig" d="M577.5 353.8L580.7 351.7L584.1 347L588.2 349L591.6 353"/>

</svg>
</body></html>
